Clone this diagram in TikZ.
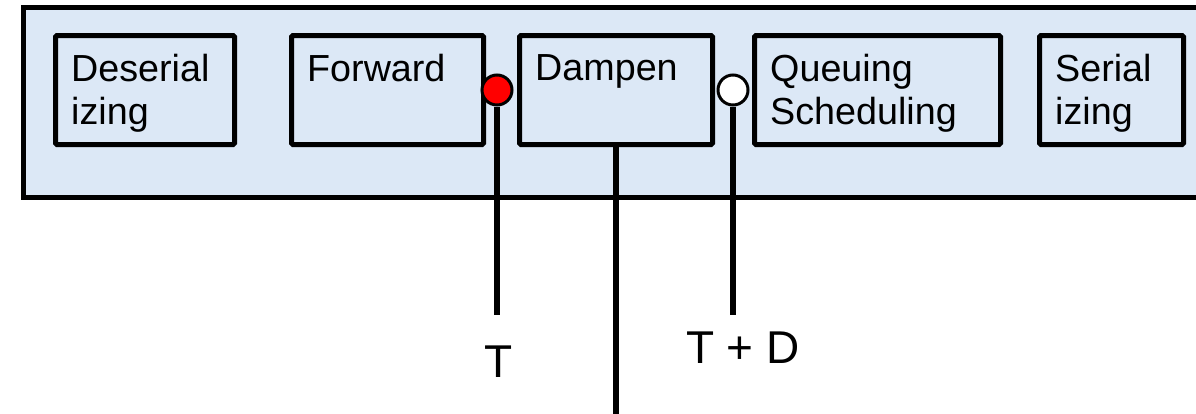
\documentclass[tikz,border=0pt]{standalone}
\usepackage{fontspec}
\setmainfont{Liberation Sans}
\usepackage{tikz}
\usetikzlibrary{positioning}
\definecolor{paneblue}{RGB}{220,232,246}

\begin{document}
\begin{tikzpicture}
                        [
                            x=1pt, y=-1pt,
                            stage style/.style={draw, line width=5pt, rounded corners=1.5pt, minimum height=109pt, inner sep=0pt},
                            stage text/.style={anchor=north west, align=left, inner sep=0pt, xshift=18pt, yshift=-21pt, font=\fontsize{37.7}{43}\selectfont},
                            port style/.style={circle, draw, line width=3pt, minimum size=30pt, inner sep=0pt},
                            wire style/.style={line width=6pt},
                            time style/.style={font=\fontsize{46}{52}\selectfont}
                        ]
                        \useasboundingbox (0,0) rectangle (1196,413);
                        \draw[line width=5.5pt, fill=paneblue] (1205,7.5) -- (23.5,7.5) -- (23.5,197.5) -- (1205,197.5);
                        \node[stage style, minimum width=179pt, label={[stage text]north west:Deserial\\izing}] (deser) at (145,90) {};
                        \node[stage style, minimum width=192pt, label={[stage text]north west:Forward}] (fwd) at (387.5,90) {};
                        \node[stage style, minimum width=193pt, label={[stage text]north west:Dampen}] (damp) at (616,90) {};
                        \node[stage style, minimum width=246pt, label={[stage text]north west:Queuing\\Scheduling}] (queue) at (877.5,90) {};
                        \node[stage style, minimum width=144pt, label={[stage text]north west:Serial\\izing}] (ser) at (1111.5,90) {};
                        \node[port style, fill=red] (tin) at (497,90) {};
                        \node[port style, fill=white] (tout) at (733,90) {};
                        \coordinate (tin-end) at (497,315);
                        \coordinate (tout-end) at (733,315);
                        \coordinate (damp-end) at (616,420);
                        \draw[wire style] (tin.south) -- (tin-end);
                        \draw[wire style] (tout.south) -- (tout-end);
                        \draw[wire style] (damp.south) -- (damp-end);
                        \node[time style] (tlabel) at (499,362) {T};
                        \node[time style] (tdlabel) at (743,348) {T + D};
                        
                        \end{tikzpicture}
\end{document}
